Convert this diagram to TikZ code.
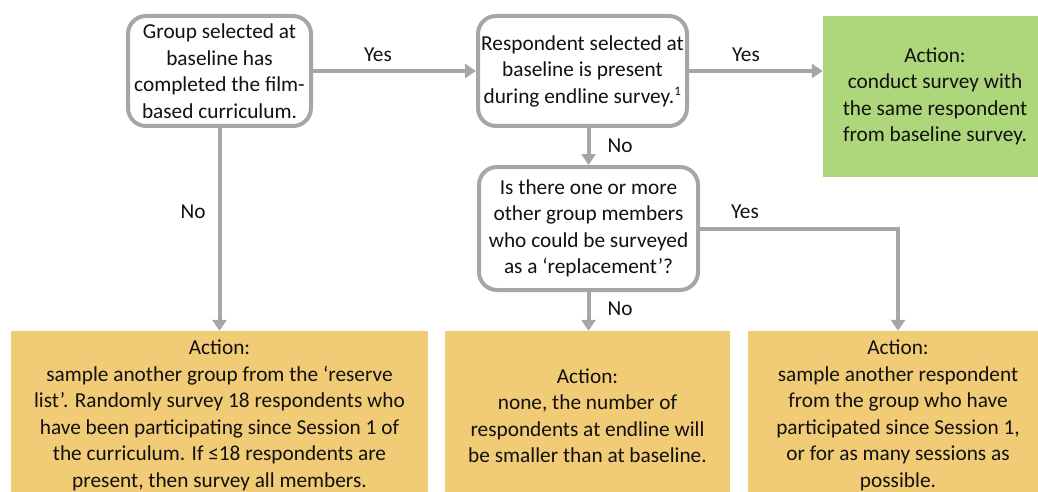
\documentclass[tikz,border=0pt]{standalone}
\usepackage{fontspec}
\setmainfont{Carlito}
\usetikzlibrary{arrows.meta}
\definecolor{gline}{HTML}{A6A6A6}
\definecolor{greenfill}{HTML}{AED67A}
\definecolor{orangefill}{HTML}{F2CB76}
\definecolor{txt}{HTML}{111111}
\tikzset{
  qbox/.style={draw=gline, line width=4pt, rounded corners=18pt, fill=white, align=center, inner sep=0pt, text=txt},
  actgreen/.style={fill=greenfill, align=center, inner sep=0pt, text=txt},
  actorange/.style={fill=orangefill, align=center, inner sep=0pt, text=txt},
  conn/.style={draw=gline, line width=4pt, -{Triangle[width=14pt,length=11pt]}},
  lbl/.style={text=txt, inner sep=0pt}
}
\begin{document}
\begin{tikzpicture}[x=1pt,y=-1pt,font=\fontsize{21.3}{26.5}\selectfont]
\useasboundingbox (0,0) rectangle (1038,492);
% question boxes
\node[qbox, minimum width=183pt, minimum height=110pt] (a) at (219.5,71) {Group selected at\\baseline has\\completed the film-\\based curriculum.};
\node[qbox, minimum width=209pt, minimum height=110pt] (b) at (582.5,71) {Respondent selected at\\baseline is present\\during endline survey.\textsuperscript{\fontsize{13}{13}\selectfont 1}};
\node[qbox, minimum width=219pt, minimum height=123pt] (d) at (588.5,228.5) {Is there one or more\\other group members\\who could be surveyed\\as a ‘replacement’?};
% action boxes
\node[actgreen, minimum width=224pt, minimum height=161pt] (c) at (935,96.5) {Action:\\conduct survey with\\the same respondent\\from baseline survey.};
\node[actorange, minimum width=417pt, minimum height=169pt] (bl) at (219.5,415.5) {Action:\\sample another group from the ‘reserve\\list’. Randomly survey 18 respondents who\\have been participating since Session 1 of\\the curriculum. If ≤18 respondents are\\present, then survey all members.};
\node[actorange, minimum width=285pt, minimum height=169pt] (bm) at (587.5,415.5) {Action:\\none, the number of\\respondents at endline will\\be smaller than at baseline.};
\node[actorange, minimum width=300pt, minimum height=169pt] (br) at (898,415.5) {Action:\\sample another respondent\\from the group who have\\participated since Session 1,\\or for as many sessions as\\possible.};
% connectors
\draw[conn] (a.east) -- (b.west);
\draw[conn] (b.east) -- (b.east -| c.west);
\draw[conn] (a.south) -- (a.south |- bl.north);
\draw[conn] (b.south -| d.north) -- (d.north);
\draw[conn] (d.south) -- (d.south |- bm.north);
\draw[conn] (d.east) -- (d.east -| br.north) -- (br.north);
% labels
\node[lbl] (y1) at (378,55) {Yes};
\node[lbl] (y2) at (746,55) {Yes};
\node[lbl] (n1) at (620,146) {No};
\node[lbl] (n2) at (193,212) {No};
\node[lbl] (y3) at (745,212) {Yes};
\node[lbl] (n3) at (620,309) {No};
\end{tikzpicture}
\end{document}
